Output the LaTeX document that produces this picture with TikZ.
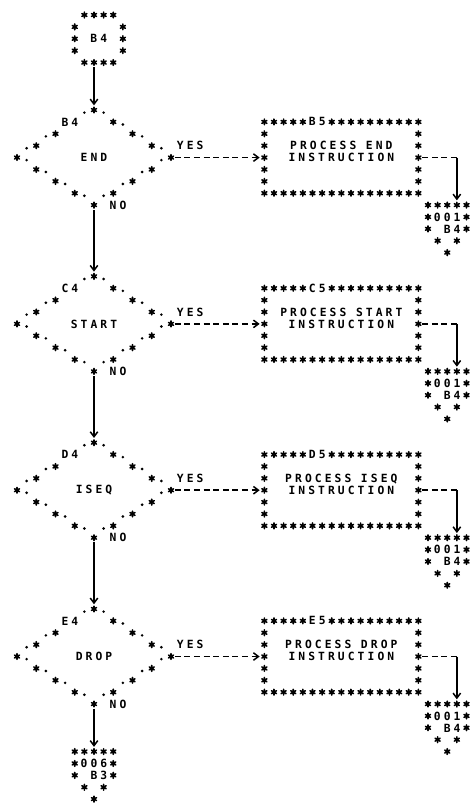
\documentclass[tikz,border=0pt]{standalone}
\usepackage{fontspec}
\newfontfamily\prtfont[LetterSpace=27.3, BoldFont={DejaVu Sans Mono Bold}]{DejaVu Sans Mono}
\usetikzlibrary{arrows.meta}
\newcommand\prtfonts{\prtfont\bfseries\fontsize{11.3pt}{11.88pt}\selectfont\spaceskip=9.625pt\relax}

\tikzset{
  astpen/.style={line width=1.55pt, line cap=round},
  pics/prtstar/.style={code={\draw[astpen] (0pt,-2.9pt) -- (0pt,2.9pt) (-2.5pt,-1.45pt) -- (2.5pt,1.45pt) (-2.5pt,1.45pt) -- (2.5pt,-1.45pt);}},
  pics/prtdot/.style={code={\fill (0pt,-2.6pt) circle (1.45pt);}},
  % printed outlines, drawn star by star on the character grid
  pics/termstars/.style={code={
    \foreach \c in {1,...,4} {\pic at (\c,0) {prtstar}; \pic at (\c,4) {prtstar};}
    \foreach \r in {1,2,3} {\pic at (0,\r) {prtstar}; \pic at (5,\r) {prtstar};}
  }},
  pics/kitestars/.style={code={
    \foreach \c/\r in {0/-4,2/-3,4/-2,-4/-2,6/-1,-6/-1,8/0,-8/0,6/1,-6/1,4/2,-4/2,2/3,-2/3,0/4}
      \pic at (\c,\r) {prtstar};
    \foreach \c/\r in {-1/-4,1/-4,3/-3,5/-2,-5/-2,7/-1,-7/-1,7/0,-7/0,5/1,-5/1,3/2,-3/2,1/3,-1/3}
      \pic at (\c,\r) {prtdot};
  }},
  pics/boxstars/.style={code={
    \foreach \c in {0,1,2,3,4,7,8,...,16} \pic at (\c,0) {prtstar};
    \foreach \c in {0,...,16} \pic at (\c,6) {prtstar};
    \foreach \r in {1,...,5} {\pic at (0,\r) {prtstar}; \pic at (16,\r) {prtstar};}
  }},
  pics/pagestars/.style={code={
    \foreach \c/\r in {0/0,1/0,2/0,3/0,4/0,0/1,4/1,0/2,4/2,1/3,3/3,2/4}
      \pic at (\c,\r) {prtstar};
  }},
  prt/.style={font=\prtfonts, inner sep=0pt},
  termcell/.style={prt, minimum height=47.52pt},
  decisioncell/.style={prt, minimum width=154pt, minimum height=95.04pt},
  processcell/.style={prt, align=center, minimum width=154pt},
  pagecell/.style={prt, align=right, minimum height=35.64pt},
  flow/.style={line width=1.5pt, shorten <=4.5pt, shorten >=4.5pt, -{Straight Barb[length=5pt,width=7.5pt]}},
  yesflow/.style={flow, dash pattern=on 6pt off 3.6pt, shorten <=3.6pt},
  exitline/.style={line width=1.5pt, dash pattern=on 6pt off 3.6pt, shorten <=3.6pt}
}

\begin{document}
\begin{tikzpicture}[x=9.625pt, y=-11.88pt]
  \useasboundingbox (-1.766,-1.263) rectangle (47.377,66.33);
  % entry connector
  \node[termcell] (t0) at (8.5,2) {B4};
  \pic at (6,0) {termstars};
  % decision, process box and exit connector per row
  \foreach \k/\dlab/\dtxt/\blab in {0/B4/END/B5, 1/C4/START/C5, 2/D4/ISEQ/D5, 3/E4/DROP/E5} {
    \begin{scope}[shift={(0,14*\k)}]
      \node[decisioncell] (d\k) at (8,12) {\dtxt};
      \pic at (8,12) {kitestars};
      \node[prt] (dl\k) at (5.5,9) {\dlab};
      \node[prt] (yes\k) at (18,11) {YES};
      \node[prt] (no\k) at (10.5,16) {NO};
      \node[processcell] (b\k) at (33.7,11.5) {PROCESS \dtxt\\INSTRUCTION};
      \pic at (25.7,9) {boxstars};
      \node[prt] (bl\k) at (31.2,9) {\blab};
      \node[pagecell] (o\k) at (44.7,17.5) {001\\B4};
      \pic at (42.7,16) {pagestars};
      \coordinate (x\k) at (45.7,12);
      \draw[yesflow] (d\k.east) -- (d\k.east -| b\k.west);
      \draw[exitline] (b\k.east |- d\k.east) -- (x\k);
      \draw[flow, shorten <=0pt] (x\k) -- (o\k.north -| x\k);
    \end{scope}
  }
  % exit at the bottom
  \node[pagecell] (o4) at (8,63.5) {006\\B3};
  \pic at (6,62) {pagestars};
  % main line
  \draw[flow] (t0.south -| d0.north) -- (d0.north);
  \foreach \a/\b in {0/1,1/2,2/3}
    \draw[flow] (d\a.south) -- (d\b.north);
  \draw[flow] (d3.south) -- (o4.north);
\end{tikzpicture}
\end{document}
